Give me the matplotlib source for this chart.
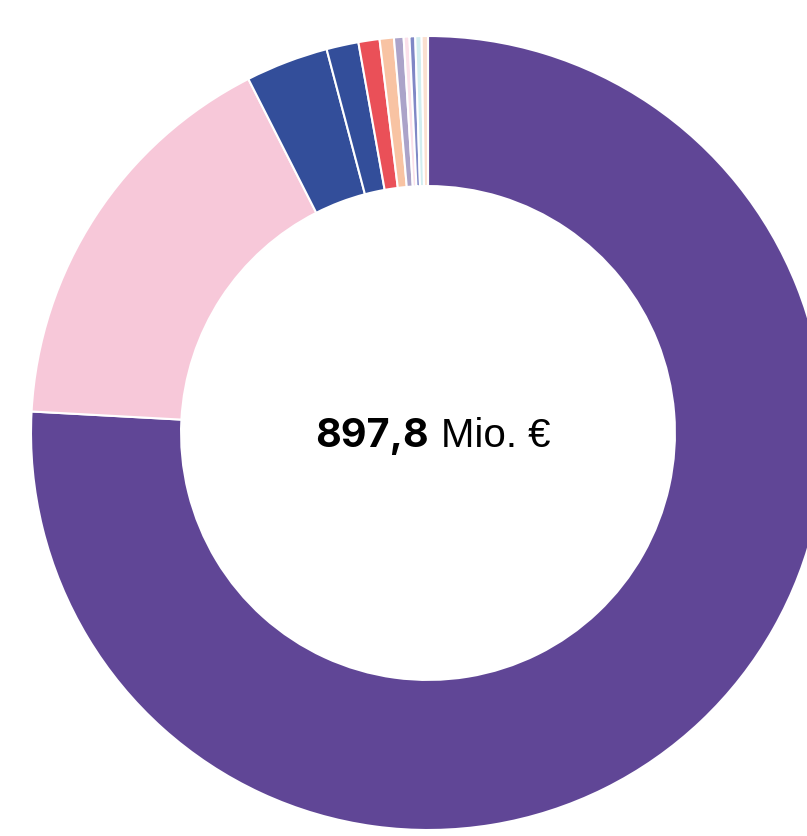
import matplotlib
matplotlib.use("Agg")
import matplotlib.pyplot as plt

# Anteile in Mio. EUR (aus dem Bild geschätzt), im Uhrzeigersinn ab 12 Uhr
values = [681.1, 149.6, 30.2, 11.7, 7.7, 5.2, 3.5, 2.1, 2.1, 2.3, 2.3]
colors = ["#604696", "#f7c8d9", "#334e9a", "#334e9a", "#ea5058", "#f8c3a3",
          "#aba3c9", "#fbe0ea", "#8088c6", "#d2eef0", "#fbe0d0"]
total_label = "897,8"
unit_label = "Mio. €"

plt.rcParams['font.family'] = ['Liberation Sans', 'DejaVu Sans']

fig = plt.figure(figsize=(8.07, 8.36), dpi=100)
ax = fig.add_axes([0, 0, 1, 1])

ax.pie(values, colors=colors, startangle=90, counterclock=False,
       radius=1.0,
       wedgeprops=dict(width=0.378, edgecolor="white", linewidth=1.5))

# Bildausschnitt: Mitte bei (428, 433) px, Radius 397 px
scale = 397.0
ax.set_xlim(-428 / scale, (807 - 428) / scale)
ax.set_ylim((433 - 836) / scale, 433 / scale)
ax.set_aspect("equal")
ax.axis("off")

ax.text(1 / scale, -13.7 / scale, total_label, ha="right", va="baseline",
        fontsize=28.5, fontweight="bold", color="black",
        family=['Inter', 'Liberation Sans'])
ax.text(13 / scale, -13.7 / scale, unit_label, ha="left", va="baseline",
        fontsize=29, color="black")

fig.savefig("out.png", dpi=100)
